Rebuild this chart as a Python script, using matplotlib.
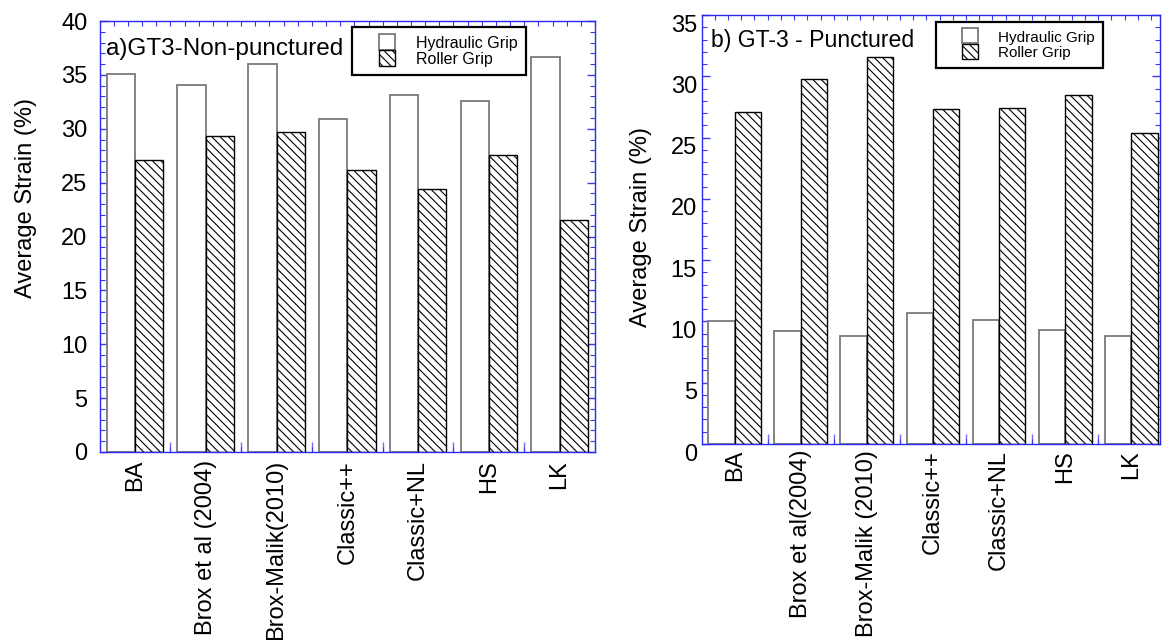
"""
Average strain of GT3 specimens by optical-flow method,
hydraulic grip vs roller grip, non-punctured (a) and punctured (b).
Saves the two-panel figure as out.png.
"""

import matplotlib
matplotlib.use("Agg")
import matplotlib.pyplot as plt
import matplotlib.patches as mpatches
import matplotlib.ticker as mticker
import matplotlib.transforms as mtransforms
from matplotlib.legend_handler import HandlerPatch

# ──────────────────────────────────────────────
# Data
# ──────────────────────────────────────────────
methods_a = ["BA", "Brox et al (2004)", "Brox-Malik(2010)", "Classic++",
             "Classic+NL", "HS", "LK"]
methods_b = ["BA", "Brox et al(2004)", "Brox-Malik (2010)", "Classic++",
             "Classic+NL", "HS", "LK"]

hydraulic_a = [35.1, 34.1, 36.0, 30.9, 33.1, 32.6, 36.7]
roller_a    = [27.1, 29.3, 29.7, 26.2, 24.4, 27.55, 21.5]

hydraulic_b = [10.0, 9.2, 8.8, 10.7, 10.15, 9.3, 8.8]
roller_b    = [27.05, 29.8, 31.55, 27.3, 27.4, 28.5, 25.35]

# ──────────────────────────────────────────────
# Style
# ──────────────────────────────────────────────
SPINE_BLUE  = "#2a2aee"
TICK_BLUE   = "#3a3aee"
BAR_W       = 0.40
HATCH       = "\\\\\\\\"
OUTPUT_FILE = "out.png"

plt.rcParams["font.family"] = ["Liberation Sans", "DejaVu Sans"]
plt.rcParams["hatch.linewidth"] = 0.8
plt.rcParams["hatch.color"] = "black"


def square_handle(legend, orig_handle, xdescent, ydescent, width, height, fontsize):
    """Square legend patch pushed to the right end of the handle box."""
    s = height + ydescent
    return mpatches.Rectangle((-xdescent + width - s, -ydescent), s, s)


def draw_panel(ax, labels, hyd, rol, ylim, xlim, title, title_xy, title_size,
               legend_anchor, legend_size, ylabel_xy, label_shift_pt,
               ytick_pad, xtick_pad):
    x = list(range(len(labels)))
    x_h = [i - BAR_W / 2 for i in x]
    x_r = [i + BAR_W / 2 for i in x]

    bars_h = ax.bar(x_h, hyd, width=BAR_W, facecolor="white", edgecolor="#7a7a7a",
                    linewidth=1.3, zorder=2)
    bars_r = ax.bar(x_r, rol, width=BAR_W, facecolor="white", edgecolor="black",
                    linewidth=1.0, hatch=HATCH, zorder=2)

    ax.set_xlim(*xlim)
    ax.set_ylim(*ylim)

    # spines
    for sp in ax.spines.values():
        sp.set_color(SPINE_BLUE)
        sp.set_linewidth(1.0)

    # x axis: labels at group centres, fine ticks every 0.2
    ax.set_xticks(x)
    ax.set_xticklabels(labels, rotation=90, fontsize=17)
    ax.xaxis.set_minor_locator(mticker.MultipleLocator(0.2, offset=-0.5))
    ax.tick_params(axis="x", which="major", length=0, pad=xtick_pad,
                   top=True, bottom=True)
    ax.tick_params(axis="x", which="minor", direction="in", length=3.5,
                   width=0.8, color=TICK_BLUE, top=True, bottom=True)

    # longer boundary ticks between groups
    sec = ax.secondary_xaxis("bottom")
    sec.set_xticks([i + 0.5 for i in x[:-1]])
    sec.set_xticklabels([])
    sec.tick_params(direction="in", length=7, width=1.0, color="#7070ff")
    sec.spines["bottom"].set_visible(False)

    # y axis
    ax.yaxis.set_major_locator(mticker.MultipleLocator(5))
    ax.yaxis.set_minor_locator(mticker.MultipleLocator(1))
    ax.tick_params(axis="y", which="major", direction="in", length=5.5,
                   width=1.0, color=TICK_BLUE, left=True, right=True,
                   labelsize=17, pad=ytick_pad)
    ax.tick_params(axis="y", which="minor", direction="in", length=3.5,
                   width=0.8, color=TICK_BLUE, left=True, right=True)

    if label_shift_pt:
        shift = mtransforms.ScaledTranslation(0, -label_shift_pt / 72,
                                              ax.figure.dpi_scale_trans)
        for lab in ax.get_yticklabels():
            lab.set_transform(lab.get_transform() + shift)

    ax.set_ylabel("Average Strain (%)", fontsize=17)
    ax.yaxis.set_label_coords(*ylabel_xy)

    ax.text(title_xy[0], title_xy[1], title, transform=ax.transAxes,
            fontsize=title_size, ha="left", va="baseline")

    leg = ax.legend([bars_h.patches[0], bars_r.patches[0]],
                    ["Hydraulic Grip", "Roller Grip"],
                    loc="upper left", bbox_to_anchor=legend_anchor,
                    borderaxespad=0, fontsize=legend_size, fancybox=False,
                    edgecolor="black", framealpha=1, borderpad=0.5,
                    handlelength=2.2, handleheight=1.0, handletextpad=1.35,
                    labelspacing=0.05,
                    handler_map={mpatches.Rectangle: HandlerPatch(patch_func=square_handle)})
    leg.get_frame().set_linewidth(1.6)
    leg.set_zorder(5)


fig = plt.figure(figsize=(11.63, 6.40), dpi=100)
fig.patch.set_facecolor("white")

ax_a = fig.add_axes([100 / 1163, 1 - 452 / 640, 495 / 1163, 431 / 640])
ax_b = fig.add_axes([702 / 1163, 1 - 444 / 640, 458 / 1163, 429 / 640])

draw_panel(ax_a, methods_a, hydraulic_a, roller_a,
           ylim=(0, 40), xlim=(-0.494, 6.5),
           title="a)GT3-Non-punctured", title_xy=(0.013, 0.921), title_size=17.5,
           legend_anchor=(0.5085, 0.985), legend_size=11.5,
           ylabel_xy=(-0.127, 0.59), label_shift_pt=0,
           ytick_pad=9, xtick_pad=5.8)

draw_panel(ax_b, methods_b, hydraulic_b, roller_b,
           ylim=(0, 35), xlim=(-0.494, 6.435),
           title="b) GT-3 - Punctured", title_xy=(0.020, 0.926), title_size=16.6,
           legend_anchor=(0.512, 0.984), legend_size=11,
           ylabel_xy=(-0.11, 0.506), label_shift_pt=5.8,
           ytick_pad=3.6, xtick_pad=4.3)

fig.savefig(OUTPUT_FILE, dpi=100)
